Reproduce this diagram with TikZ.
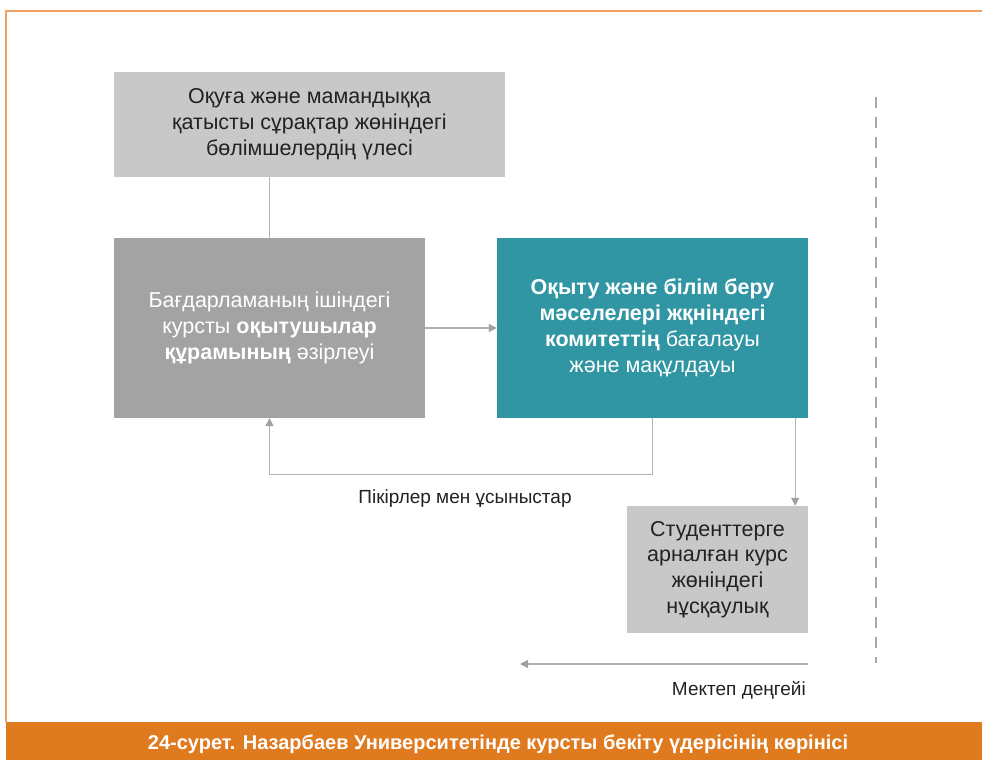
\documentclass[tikz,border=0pt]{standalone}
\usepackage{fontspec}
\setmainfont{Liberation Sans}
\usetikzlibrary{arrows.meta}
\definecolor{boxlight}{HTML}{C8C8C8}
\definecolor{boxmid}{HTML}{A3A3A3}
\definecolor{teal1}{HTML}{3196A3}
\definecolor{connc}{HTML}{B2B2B2}
\definecolor{tipc}{HTML}{A0A0A0}
\definecolor{dashc}{HTML}{A8A8A8}
\definecolor{bandor}{HTML}{E07A1F}
\definecolor{frameor}{HTML}{F0A060}
\definecolor{txt}{HTML}{222222}
\tikzset{
  boxbase/.style={rectangle, inner sep=0pt, align=center, font=\fontsize{21.5}{25.8}\selectfont},
  lightbox/.style={boxbase, fill=boxlight, text=txt},
  midbox/.style={boxbase, fill=boxmid, text=white},
  tealbox/.style={boxbase, fill=teal1, text=white},
  conn/.style={draw=connc, line width=1.3pt},
  arr/.style={conn, -{Triangle[length=8pt,width=8pt,color=tipc]}},
  lbl/.style={inner sep=0pt, text=txt, font=\fontsize{19}{22}\selectfont}
}
\begin{document}
\begin{tikzpicture}[x=1pt,y=-1pt]
\useasboundingbox (0,0) rectangle (982,760);
\fill[white] (0,0) rectangle (982,760);
\draw[frameor, line width=1.2pt] (6,722) -- (6,11) -- (982,11);
\fill[bandor] (6,722) rectangle (982,760);
\node[inner sep=0pt, text=white, font=\bfseries\fontsize{20}{22}\selectfont] (cap) at (498,744) {24-сурет. Назарбаев Университетінде курсты бекіту үдерісінің көрінісі};

\node[lightbox, minimum width=391pt, minimum height=105pt] (top) at (309.5,124.5)
  {Оқуға және мамандыққа\\қатысты сұрақтар жөніндегі\\бөлімшелердің үлесі};
\node[midbox, minimum width=311pt, minimum height=180pt] (left) at (269.5,328)
  {Бағдарламаның ішіндегі\\курсты \textbf{оқытушылар}\\\textbf{құрамының} әзірлеуі};
\node[tealbox, minimum width=311pt, minimum height=180pt] (teal) at (652.5,328)
  {\textbf{Оқыту және білім беру}\\\textbf{мәселелері жқніндегі}\\\textbf{комитеттің} бағалауы\\және мақұлдауы};
\node[lightbox, minimum width=181pt, minimum height=127pt] (stud) at (717.5,569.5)
  {Студенттерге\\арналған курс\\жөніндегі\\нұсқаулық};

\draw[conn] (left.north) -- (left.north |- top.south);
\draw[arr] (left.east) -- (teal.west);
\coordinate (fb) at ([yshift=-56pt]teal.south);
\draw[arr] (teal.south) -- (fb) -| (left.south);
\node[lbl] (fbl) at (465,499) {Пікірлер мен ұсыныстар};
\coordinate (t2) at ([xshift=-13pt]teal.south east);
\draw[arr] (t2) -- (t2 |- stud.north);

\coordinate (m1) at (808,664);
\coordinate (m2) at (520,664);
\draw[arr] (m1) -- (m2);
\node[lbl, anchor=east] (ml) at (806,690) {Мектеп деңгейі};

\coordinate (d1) at (876,97);
\coordinate (d2) at (876,663);
\draw[dashc, line width=2pt, dash pattern=on 11pt off 9pt] (d1) -- (d2);
\end{tikzpicture}
\end{document}
